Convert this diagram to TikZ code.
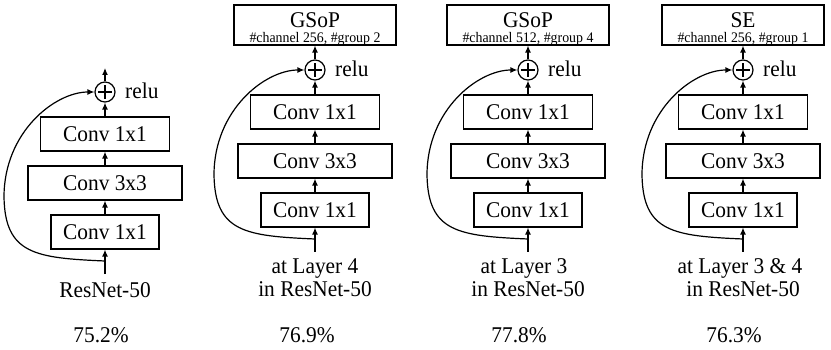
\documentclass[tikz,border=0pt]{standalone}
\usepackage{fontspec}
\setmainfont[FakeStretch=0.95]{Liberation Serif}
\usetikzlibrary{arrows.meta,calc}
\tikzset{
 conv/.style={draw, line width=1.2pt, minimum height=34pt, inner sep=0pt, font=\fontsize{22.5}{26}\selectfont},
 addnode/.style={draw, circle, line width=1.2pt, minimum size=20pt, inner sep=0pt,
   path picture={\draw[line width=1.1pt] ($(path picture bounding box.center)+(-7pt,0pt)$) -- ++(14pt,0pt)
                                       ($(path picture bounding box.center)+(0pt,-7pt)$) -- ++(0pt,14pt);}},
 arr/.style={line width=1.2pt, -{Latex[length=7pt,width=6pt]}},
 txt/.style={font=\fontsize{22.5}{26}\selectfont, inner sep=0pt},
 small/.style={font=\fontsize{14.6}{16}\selectfont, inner sep=0pt},
 attbox/.style={draw, line width=1.2pt, minimum width=162pt, minimum height=40pt, inner sep=0pt},
}
\newcommand{\resblk}[3]{%
 \node[conv, minimum width=108pt] (#1a) at (#2,{210+#3}) {Conv 1x1};
 \node[conv, minimum width=154pt] (#1b) at (#2,{161+#3}) {Conv 3x3};
 \node[conv, minimum width=129pt] (#1c) at (#2,{112+#3}) {Conv 1x1};
 \node[addnode] (#1p) at (#2,{70+#3}) {};
 \node[txt, anchor=base west] (#1r) at ({#2+20},{77+#3}) {relu};
 \coordinate (#1in) at (#2,{252+#3});
 \coordinate (#1s) at (#2,{239+#3});
 \draw[arr] (#1in) -- (#1a.south);
 \draw[arr] (#1a.north) -- (#1b.south);
 \draw[arr] (#1b.north) -- (#1c.south);
 \draw[arr] (#1c.north) -- (#1p.south);
 \draw[arr] (#1s) .. controls ({#2-70},{236+#3}) and ({#2-100},{232+#3}) .. ({#2-101},{175+#3})
   .. controls ({#2-101},{110+#3}) and ({#2-50},{70+#3}) .. (#1p.west);
}
\newcommand{\attblk}[4]{%
 \node[attbox] (#1m) at (#2,25) {};
 \node[txt, anchor=base] (#1mt) at (#2,28) {#3};
 \node[small, anchor=base] (#1ms) at (#2,43) {#4};
 \draw[arr] (#1p.north) -- (#1m.south);
}
\begin{document}
\begin{tikzpicture}[x=1pt,y=-1pt]
\useasboundingbox (0,0) rectangle (831,350);
% column 1
\resblk{A}{105}{22}
\coordinate (Aout) at (105,68);
\draw[arr] (Ap.north) -- (Aout);
\node[txt, anchor=base] (Al) at (105,298) {ResNet-50};
\node[txt, anchor=base] (Ar) at (101,342) {75.2\%};
% column 2
\resblk{B}{315}{0}
\attblk{B}{315}{GSoP}{\#channel 256, \#group 2}
\node[txt, anchor=base] (Bl1) at (315,273) {at Layer 4};
\node[txt, anchor=base] (Bl2) at (315,297) {in ResNet-50};
\node[txt, anchor=base] (Br) at (307,342) {76.9\%};
% column 3
\resblk{C}{528}{0}
\attblk{C}{528}{GSoP}{\#channel 512, \#group 4}
\node[txt, anchor=base] (Cl1) at (524,273) {at Layer 3};
\node[txt, anchor=base] (Cl2) at (528,297) {in ResNet-50};
\node[txt, anchor=base] (Cr) at (519,342) {77.8\%};
% column 4
\resblk{D}{743}{0}
\attblk{D}{743}{SE}{\#channel 256, \#group 1}
\node[txt, anchor=base] (Dl1) at (740,273) {at Layer 3 \& 4};
\node[txt, anchor=base] (Dl2) at (743,297) {in ResNet-50};
\node[txt, anchor=base] (Dr) at (734,342) {76.3\%};
\end{tikzpicture}
\end{document}
